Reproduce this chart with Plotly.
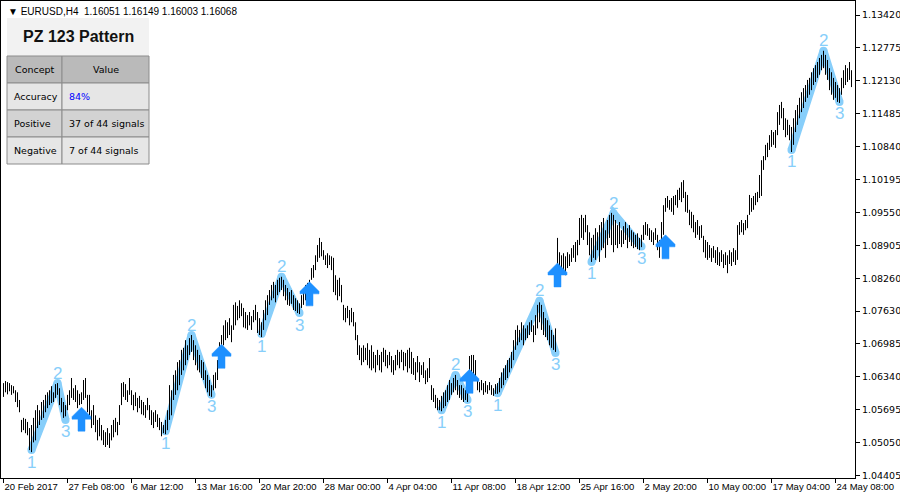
import plotly.graph_objects as go

# ---------------- data (EURUSD H4 bars) ----------------
high = [
    1.0622, 1.0626, 1.0624, 1.0622, 1.0618, 1.0616, 1.0608, 1.0604, 1.0589, 1.0550,
    1.0554, 1.0552, 1.0546, 1.0534, 1.0540, 1.0554, 1.0569, 1.0579, 1.0569, 1.0585,
    1.0589, 1.0599, 1.0604, 1.0608, 1.0616, 1.0604, 1.0620, 1.0622, 1.0612, 1.0593,
    1.0585, 1.0579, 1.0599, 1.0608, 1.0632, 1.0612, 1.0618, 1.0608, 1.0601, 1.0604,
    1.0628, 1.0632, 1.0599, 1.0599, 1.0569, 1.0579, 1.0559, 1.0550, 1.0554, 1.0540,
    1.0530, 1.0526, 1.0534, 1.0524, 1.0540, 1.0550, 1.0554, 1.0546, 1.0579, 1.0622,
    1.0624, 1.0620, 1.0608, 1.0632, 1.0608, 1.0599, 1.0604, 1.0593, 1.0597, 1.0589,
    1.0585, 1.0579, 1.0593, 1.0579, 1.0569, 1.0565, 1.0569, 1.0561, 1.0554, 1.0546,
    1.0540, 1.0550, 1.0569, 1.0618, 1.0608, 1.0638, 1.0647, 1.0663, 1.0667, 1.0687,
    1.0691, 1.0706, 1.0696, 1.0710, 1.0716, 1.0706, 1.0696, 1.0687, 1.0677, 1.0667,
    1.0663, 1.0647, 1.0638, 1.0628, 1.0618, 1.0638, 1.0643, 1.0667, 1.0702, 1.0716,
    1.0735, 1.0745, 1.0741, 1.0749, 1.0735, 1.0775, 1.0780, 1.0773, 1.0784, 1.0778,
    1.0769, 1.0761, 1.0755, 1.0761, 1.0753, 1.0765, 1.0775, 1.0761, 1.0749, 1.0741,
    1.0765, 1.0784, 1.0794, 1.0804, 1.0814, 1.0820, 1.0814, 1.0824, 1.0828, 1.0830,
    1.0824, 1.0814, 1.0808, 1.0800, 1.0804, 1.0794, 1.0788, 1.0784, 1.0778, 1.0794,
    1.0804, 1.0814, 1.0818, 1.0824, 1.0847, 1.0853, 1.0872, 1.0892, 1.0906, 1.0898,
    1.0882, 1.0872, 1.0876, 1.0872, 1.0870, 1.0867, 1.0833, 1.0824, 1.0828, 1.0814,
    1.0775, 1.0769, 1.0773, 1.0765, 1.0769, 1.0761, 1.0741, 1.0716, 1.0696, 1.0691,
    1.0696, 1.0691, 1.0700, 1.0687, 1.0696, 1.0683, 1.0677, 1.0687, 1.0677, 1.0683,
    1.0691, 1.0687, 1.0677, 1.0683, 1.0675, 1.0667, 1.0677, 1.0687, 1.0683, 1.0687,
    1.0683, 1.0681, 1.0687, 1.0691, 1.0683, 1.0671, 1.0663, 1.0675, 1.0663, 1.0657,
    1.0663, 1.0647, 1.0651, 1.0671, 1.0618, 1.0612, 1.0599, 1.0593, 1.0589, 1.0597,
    1.0604, 1.0608, 1.0618, 1.0628, 1.0622, 1.0632, 1.0638, 1.0628, 1.0618, 1.0618,
    1.0612, 1.0608, 1.0608, 1.0675, 1.0677, 1.0677, 1.0667, 1.0632, 1.0624, 1.0628,
    1.0622, 1.0626, 1.0618, 1.0624, 1.0618, 1.0612, 1.0620, 1.0622, 1.0632, 1.0643,
    1.0651, 1.0657, 1.0667, 1.0671, 1.0683, 1.0706, 1.0726, 1.0735, 1.0726, 1.0741,
    1.0735, 1.0729, 1.0735, 1.0741, 1.0745, 1.0735, 1.0755, 1.0775, 1.0780, 1.0775,
    1.0761, 1.0749, 1.0745, 1.0735, 1.0726, 1.0716, 1.0729, 1.0906, 1.0878, 1.0872,
    1.0876, 1.0870, 1.0878, 1.0874, 1.0886, 1.0892, 1.0898, 1.0902, 1.0945, 1.0951,
    1.0945, 1.0951, 1.0931, 1.0917, 1.0906, 1.0912, 1.0925, 1.0917, 1.0931, 1.0937,
    1.0945, 1.0921, 1.0941, 1.0951, 1.0955, 1.0951, 1.0941, 1.0931, 1.0937, 1.0921,
    1.0929, 1.0937, 1.0925, 1.0931, 1.0921, 1.0917, 1.0912, 1.0915, 1.0906, 1.0912,
    1.0931, 1.0937, 1.0933, 1.0925, 1.0921, 1.0917, 1.0925, 1.0912, 1.0902, 1.0937,
    1.0970, 1.0984, 1.0988, 1.0980, 1.0984, 1.0988, 1.0990, 1.1000, 1.1004, 1.1015,
    1.1019, 1.0996, 1.0990, 1.0961, 1.0957, 1.0951, 1.0937, 1.0941, 1.0929, 1.0931,
    1.0910, 1.0902, 1.0898, 1.0892, 1.0886, 1.0890, 1.0882, 1.0888, 1.0878, 1.0882,
    1.0874, 1.0878, 1.0872, 1.0882, 1.0878, 1.0886, 1.0882, 1.0931, 1.0937, 1.0941,
    1.0935, 1.0941, 1.0951, 1.0990, 1.0984, 1.0988, 1.0994, 1.0996, 1.1029, 1.1058,
    1.1066, 1.1088, 1.1092, 1.1107, 1.1117, 1.1113, 1.1117, 1.1152, 1.1166, 1.1172,
    1.1160, 1.1140, 1.1137, 1.1127, 1.1123, 1.1140, 1.1156, 1.1166, 1.1180, 1.1191,
    1.1199, 1.1205, 1.1215, 1.1219, 1.1230, 1.1238, 1.1244, 1.1250, 1.1258, 1.1264,
    1.1272, 1.1264, 1.1254, 1.1238, 1.1230, 1.1219, 1.1211, 1.1205, 1.1199, 1.1219,
    1.1234, 1.1244, 1.1238, 1.1250, 1.1234,
]
low = [
    1.0595, 1.0604, 1.0600, 1.0606, 1.0599, 1.0602, 1.0585, 1.0575, 1.0565, 1.0526,
    1.0530, 1.0524, 1.0520, 1.0491, 1.0487, 1.0506, 1.0510, 1.0534, 1.0540, 1.0550,
    1.0554, 1.0565, 1.0573, 1.0579, 1.0583, 1.0585, 1.0593, 1.0599, 1.0579, 1.0565,
    1.0554, 1.0557, 1.0569, 1.0579, 1.0593, 1.0589, 1.0585, 1.0573, 1.0579, 1.0581,
    1.0589, 1.0593, 1.0565, 1.0559, 1.0534, 1.0540, 1.0526, 1.0510, 1.0518, 1.0510,
    1.0501, 1.0497, 1.0501, 1.0495, 1.0510, 1.0516, 1.0526, 1.0520, 1.0540, 1.0579,
    1.0595, 1.0589, 1.0585, 1.0599, 1.0579, 1.0569, 1.0577, 1.0565, 1.0573, 1.0561,
    1.0559, 1.0554, 1.0569, 1.0550, 1.0540, 1.0534, 1.0546, 1.0536, 1.0530, 1.0518,
    1.0524, 1.0522, 1.0530, 1.0550, 1.0559, 1.0589, 1.0599, 1.0608, 1.0618, 1.0638,
    1.0647, 1.0657, 1.0667, 1.0677, 1.0683, 1.0667, 1.0657, 1.0647, 1.0643, 1.0632,
    1.0628, 1.0612, 1.0604, 1.0597, 1.0595, 1.0608, 1.0612, 1.0628, 1.0657, 1.0687,
    1.0696, 1.0706, 1.0710, 1.0716, 1.0702, 1.0726, 1.0735, 1.0745, 1.0749, 1.0753,
    1.0731, 1.0729, 1.0726, 1.0735, 1.0726, 1.0741, 1.0745, 1.0720, 1.0716, 1.0712,
    1.0726, 1.0745, 1.0755, 1.0775, 1.0784, 1.0788, 1.0780, 1.0794, 1.0800, 1.0804,
    1.0792, 1.0784, 1.0775, 1.0773, 1.0777, 1.0765, 1.0763, 1.0759, 1.0757, 1.0769,
    1.0775, 1.0784, 1.0792, 1.0800, 1.0824, 1.0828, 1.0843, 1.0859, 1.0867, 1.0870,
    1.0863, 1.0853, 1.0847, 1.0853, 1.0843, 1.0800, 1.0794, 1.0784, 1.0792, 1.0780,
    1.0745, 1.0741, 1.0749, 1.0735, 1.0741, 1.0733, 1.0706, 1.0677, 1.0667, 1.0657,
    1.0663, 1.0667, 1.0657, 1.0651, 1.0647, 1.0651, 1.0643, 1.0657, 1.0647, 1.0643,
    1.0663, 1.0655, 1.0651, 1.0657, 1.0643, 1.0638, 1.0647, 1.0657, 1.0651, 1.0663,
    1.0647, 1.0655, 1.0643, 1.0651, 1.0640, 1.0638, 1.0628, 1.0643, 1.0624, 1.0638,
    1.0632, 1.0620, 1.0624, 1.0632, 1.0589, 1.0585, 1.0573, 1.0569, 1.0569, 1.0567,
    1.0573, 1.0577, 1.0585, 1.0589, 1.0599, 1.0604, 1.0608, 1.0599, 1.0593, 1.0589,
    1.0585, 1.0589, 1.0585, 1.0632, 1.0642, 1.0638, 1.0628, 1.0608, 1.0604, 1.0608,
    1.0599, 1.0604, 1.0601, 1.0608, 1.0599, 1.0597, 1.0601, 1.0601, 1.0604, 1.0612,
    1.0618, 1.0628, 1.0632, 1.0643, 1.0651, 1.0667, 1.0687, 1.0696, 1.0702, 1.0706,
    1.0696, 1.0706, 1.0710, 1.0716, 1.0722, 1.0702, 1.0716, 1.0729, 1.0741, 1.0726,
    1.0716, 1.0712, 1.0706, 1.0696, 1.0691, 1.0687, 1.0683, 1.0824, 1.0839, 1.0847,
    1.0843, 1.0833, 1.0847, 1.0851, 1.0859, 1.0867, 1.0859, 1.0872, 1.0892, 1.0906,
    1.0902, 1.0917, 1.0892, 1.0872, 1.0859, 1.0867, 1.0863, 1.0882, 1.0859, 1.0882,
    1.0886, 1.0867, 1.0892, 1.0906, 1.0892, 1.0878, 1.0892, 1.0886, 1.0894, 1.0888,
    1.0894, 1.0902, 1.0886, 1.0898, 1.0890, 1.0886, 1.0888, 1.0884, 1.0882, 1.0888,
    1.0902, 1.0912, 1.0910, 1.0902, 1.0898, 1.0892, 1.0902, 1.0882, 1.0867, 1.0892,
    1.0912, 1.0957, 1.0965, 1.0961, 1.0957, 1.0951, 1.0970, 1.0965, 1.0980, 1.0976,
    1.0984, 1.0957, 1.0955, 1.0931, 1.0925, 1.0917, 1.0906, 1.0912, 1.0902, 1.0906,
    1.0878, 1.0867, 1.0863, 1.0867, 1.0859, 1.0867, 1.0857, 1.0853, 1.0851, 1.0859,
    1.0847, 1.0853, 1.0837, 1.0855, 1.0851, 1.0859, 1.0853, 1.0863, 1.0912, 1.0917,
    1.0912, 1.0921, 1.0925, 1.0951, 1.0957, 1.0961, 1.0970, 1.0976, 1.0984, 1.0988,
    1.1039, 1.1058, 1.1064, 1.1078, 1.1084, 1.1088, 1.1082, 1.1107, 1.1127, 1.1140,
    1.1117, 1.1103, 1.1107, 1.1097, 1.1074, 1.1088, 1.1113, 1.1127, 1.1140, 1.1152,
    1.1160, 1.1172, 1.1180, 1.1186, 1.1195, 1.1205, 1.1211, 1.1219, 1.1225, 1.1234,
    1.1238, 1.1225, 1.1215, 1.1195, 1.1186, 1.1176, 1.1180, 1.1172, 1.1170, 1.1186,
    1.1199, 1.1205, 1.1211, 1.1215, 1.1201,
]

# x-axis labels (bar index of each label) and price-axis labels
date_tick_bars = [0, 32, 64, 96, 128, 160, 192, 224, 256, 288, 320, 352, 384, 416]
date_tick_text = ["20 Feb 2017", "27 Feb 08:00", "6 Mar 12:00", "13 Mar 16:00",
                  "20 Mar 20:00", "28 Mar 00:00", "4 Apr 04:00", "11 Apr 08:00",
                  "18 Apr 12:00", "25 Apr 16:00", "2 May 20:00", "10 May 00:00",
                  "17 May 04:00", "24 May 08:00"]
price_ticks = [1.13420, 1.12775, 1.12130, 1.11485, 1.10840, 1.10195, 1.09550,
               1.08905, 1.08260, 1.07630, 1.06985, 1.06340, 1.05695, 1.05050, 1.04405]

# 1-2-3 patterns: bar index and price of points 1, 2, 3
pattern_bars = [[14, 27, 31], [81, 94, 104], [129, 139, 148], [219, 226, 232],
                [247, 268, 276], [294, 305, 319], [394, 410, 418]]
pattern_prices = [[1.0491, 1.0622, 1.0550], [1.0528, 1.0716, 1.0599],
                  [1.0718, 1.0830, 1.0759], [1.0569, 1.0638, 1.0589],
                  [1.0602, 1.0783, 1.0681], [1.0859, 1.0954, 1.0889],
                  [1.1078, 1.1272, 1.1172]]

# buy-signal arrows: bar index and price of the arrow tip
arrow_bars = [39, 109, 153, 233, 277, 331]
arrow_prices = [1.0575, 1.0698, 1.0820, 1.0649, 1.0857, 1.0912]

symbol_info = "EURUSD,H4  1.16051 1.16149 1.16003 1.16068"
panel_title = "PZ 123 Pattern"
table_header = ["Concept", "Value"]
table_concepts = ["Accuracy", "Positive", "Negative"]
table_values = ["84%", "37 of 44 signals", "7 of 44 signals"]

# ---------------- layout geometry ----------------
W, H = 900, 500
ML, MR, MT, MB = 1, 45, 1, 22
PW = W - ML - MR
PH = H - MT - MB
X0 = -1.25
X1 = X0 + PW / 2.0          # 2 px per bar
Y1 = 1.1369384
Y0 = 1.0436372
BAR_PER_PX = (X1 - X0) / PW
PRICE_PER_PX = (Y1 - Y0) / PH

def pxx(x):
    return (x - ML) / PW

def pxy(y):
    return 1 - (y - MT) / PH

BLUE_LINE = "#87CEFA"
ARROW = "#1E90FF"
FONT = "DejaVu Sans"
AXFONT = "Liberation Sans"

fig = go.Figure()

# pattern zig-zags (under the bars)
for bars, prices in zip(pattern_bars, pattern_prices):
    fig.add_trace(go.Scatter(x=bars, y=prices, mode="lines+markers",
                             line=dict(color=BLUE_LINE, width=8),
                             marker=dict(color=BLUE_LINE, size=8, line=dict(width=0)),
                             hoverinfo="skip", showlegend=False))

# high-low bars
bx, by = [], []
for i, (h, l) in enumerate(zip(high, low)):
    bx += [i, i, None]
    by += [l, h, None]
fig.add_trace(go.Scatter(x=bx, y=by, mode="lines",
                         line=dict(color="black", width=1),
                         hoverinfo="skip", showlegend=False))

# arrows (polygon offsets in screen pixels from the tip)
arrow_shape = [(0, 0), (9.5, 9.5), (9.5, 12), (3.5, 12), (3.5, 24), (-3.5, 24),
               (-3.5, 12), (-9.5, 12), (-9.5, 9.5), (0, 0)]
ax, ay = [], []
for b, p in zip(arrow_bars, arrow_prices):
    for dx, dy in arrow_shape:
        ax.append(b + dx * BAR_PER_PX)
        ay.append(p - dy * PRICE_PER_PX)
    ax.append(None)
    ay.append(None)
fig.add_trace(go.Scatter(x=ax, y=ay, mode="lines", fill="toself",
                         fillcolor=ARROW, line=dict(color=ARROW, width=0.5),
                         hoverinfo="skip", showlegend=False))

annotations = []
# pattern labels
for bars, prices in zip(pattern_bars, pattern_prices):
    for k, (b, p) in enumerate(zip(bars, prices)):
        annotations.append(dict(x=b, y=p, xref="x", yref="y", text=str(k + 1),
                                showarrow=False, yshift=(10 if k == 1 else -12),
                                font=dict(family="Liberation Sans", size=17, color=BLUE_LINE),
                                xanchor="center", yanchor="middle"))

# symbol line at top-left
annotations.append(dict(x=pxx(6), y=pxy(11), xref="paper", yref="paper",
                        text="\u25bc " + symbol_info.replace("  ", "\u00a0 "),
                        showarrow=False, xanchor="left", yanchor="middle",
                        font=dict(family="Liberation Sans", size=10, color="black")))

shapes = []
# panel title box
shapes.append(dict(type="rect", xref="paper", yref="paper", layer="above",
                   x0=pxx(7), x1=pxx(149), y0=pxy(56), y1=pxy(18),
                   fillcolor="#f2f2f2", line=dict(width=0)))
annotations.append(dict(x=pxx(78), y=pxy(37), xref="paper", yref="paper",
                        text="<b>" + panel_title + "</b>", showarrow=False,
                        xanchor="center", yanchor="middle",
                        font=dict(family="Liberation Sans", size=16, color="#111111")))

row_edges = [56, 83, 110, 137, 164]
col_edges = [7, 62, 149]
row_fills = ["#bababa", "#e6e6e6", "#d3d3d3", "#e6e6e6"]
rows = [table_header] + [[c, v] for c, v in zip(table_concepts, table_values)]
for r, (cells, fillc) in enumerate(zip(rows, row_fills)):
    for c in range(2):
        shapes.append(dict(type="rect", xref="paper", yref="paper", layer="above",
                           x0=pxx(col_edges[c]), x1=pxx(col_edges[c + 1]),
                           y0=pxy(row_edges[r + 1]), y1=pxy(row_edges[r]),
                           fillcolor=fillc, line=dict(color="#8c8c8c", width=1)))
        yc = pxy((row_edges[r] + row_edges[r + 1]) / 2)
        color = "#0000ff" if (r == 1 and c == 1) else "black"
        if r == 0:
            annotations.append(dict(x=pxx((col_edges[c] + col_edges[c + 1]) / 2), y=yc,
                                    xref="paper", yref="paper", text=cells[c],
                                    showarrow=False, xanchor="center", yanchor="middle",
                                    font=dict(family=FONT, size=9.5, color=color)))
        else:
            annotations.append(dict(x=pxx(col_edges[c] + 4.5), y=yc,
                                    xref="paper", yref="paper", text=cells[c],
                                    showarrow=False, xanchor="left", yanchor="middle",
                                    font=dict(family=FONT, size=9.5, color=color)))

fig.update_layout(
    template="none",
    width=W, height=H,
    margin=dict(l=ML, r=MR, t=MT, b=MB, pad=0),
    paper_bgcolor="white", plot_bgcolor="white",
    showlegend=False,
    annotations=annotations,
    shapes=shapes,
    xaxis=dict(range=[X0, X1], showgrid=False, zeroline=False,
               showline=True, linecolor="black", linewidth=1, mirror=True,
               tickmode="array", tickvals=date_tick_bars, ticktext=date_tick_text,
               ticks="outside", ticklen=4, tickcolor="black", tickwidth=1,
               ticklabelposition="outside right", tickangle=0, automargin=False,
               tickfont=dict(family=AXFONT, size=9.5, color="black")),
    yaxis=dict(range=[Y0, Y1], side="right", showgrid=False, zeroline=False,
               showline=True, linecolor="black", linewidth=1, mirror=True,
               tickmode="array", tickvals=price_ticks,
               ticktext=["%.5f" % v for v in price_ticks],
               ticks="outside", ticklen=4, tickcolor="black", tickwidth=1,
               automargin=False,
               tickfont=dict(family=FONT, size=9.5, color="black")),
)

fig.write_html("out.html", config={"displayModeBar": False},
               post_script="document.body.style.margin='0px';document.body.style.padding='0px';")
